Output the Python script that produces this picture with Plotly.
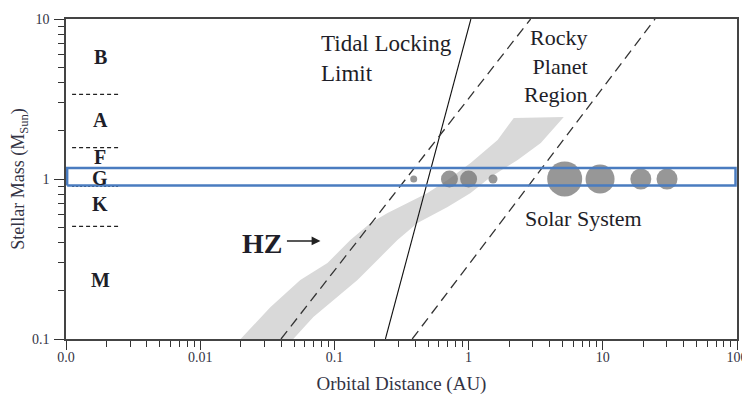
import math
import plotly.graph_objects as go

# ---------------- data ----------------
# Habitable-zone band outline (AU, solar masses): upper/left edge up, then lower/right edge down
hz_x = [0.020, 0.0333, 0.0557, 0.0888, 0.1315, 0.186, 0.249, 0.351, 0.494, 0.697, 1.035, 1.645, 2.17, 5.12,
        3.45, 2.32, 1.46, 1.035, 0.697, 0.416, 0.295, 0.2096, 0.1486, 0.105, 0.0697, 0.0494]
hz_y = [0.1, 0.158, 0.234, 0.2985, 0.416, 0.531, 0.613, 0.708, 0.818, 0.986, 1.259, 1.753, 2.405, 2.44,
        1.68, 1.315, 1.03, 0.818, 0.668, 0.531, 0.416, 0.312, 0.234, 0.183, 0.137, 0.1]

tidal_x = [0.24, 1.04]
tidal_y = [0.1, 10]
rocky_inner_x = [0.04, 2.9]
rocky_inner_y = [0.1, 10]
rocky_outer_x = [0.38, 24.5]
rocky_outer_y = [0.1, 10]

planets = ["Mercury", "Venus", "Earth", "Mars", "Jupiter", "Saturn", "Uranus", "Neptune"]
planet_a = [0.39, 0.72, 1.0, 1.52, 5.2, 9.54, 19.2, 30.1]
planet_mass = [1, 1, 1, 1, 1, 1, 1, 1]
planet_px = [7, 17, 17, 9, 35, 29, 21, 21]

spectral_classes = ["B", "A", "F", "G", "K", "M"]
class_mass = [5.8, 2.35, 1.37, 1.02, 0.70, 0.234]
class_x = 0.0018
class_bounds = [3.38, 1.57, 1.17, 0.90, 0.506]
bound_dash = ["4px,3px", "4px,3px", "2px,2px", "2px,2px", "4px,3px"]
bound_x = [0.00111, 0.00245]

sun_band = [0.91, 1.172]
x_range = [0.001, 100]

x_tickvals = [0.001, 0.01, 0.1, 1, 10, 100]
x_ticktext = ["0.0", "0.01", "0.1", "1", "10", "100"]
y_tickvals = [0.1, 1, 10]
y_ticktext = ["0.1", "1", "10"]

# ---------------- figure ----------------
SERIF = "Liberation Serif, Times New Roman, serif"
TXT = "#1e1e28"
fig = go.Figure()

fig.add_trace(go.Scatter(x=hz_x + [hz_x[0]], y=hz_y + [hz_y[0]], mode="lines", fill="toself",
                         fillcolor="#d9d9d9", line=dict(width=0), hoverinfo="skip"))

fig.add_trace(go.Scatter(x=tidal_x, y=tidal_y, mode="lines", line=dict(color="#111", width=1.1)))
fig.add_trace(go.Scatter(x=rocky_inner_x, y=rocky_inner_y, mode="lines",
                         line=dict(color="#333", width=1.3, dash="10px,6px")))
fig.add_trace(go.Scatter(x=rocky_outer_x, y=rocky_outer_y, mode="lines",
                         line=dict(color="#333", width=1.3, dash="10px,6px")))

for b, d in zip(class_bounds, bound_dash):
    fig.add_trace(go.Scatter(x=bound_x, y=[b, b], mode="lines",
                             line=dict(color="#222", width=1.2, dash=d)))

fig.add_trace(go.Scatter(x=planet_a, y=planet_mass, mode="markers", text=planets,
                         marker=dict(size=planet_px, color="#6b6b6b", line=dict(width=0))))

# Sun-like star box
bx = [x_range[0] * 1.02, x_range[1] * 0.975]
fig.add_trace(go.Scatter(x=[bx[0], bx[1], bx[1], bx[0], bx[0]],
                         y=[sun_band[0], sun_band[0], sun_band[1], sun_band[1], sun_band[0]],
                         mode="lines", line=dict(color="#4a7cc0", width=2.5)))

L = math.log10
ann = []
for c, m in zip(spectral_classes, class_mass):
    ann.append(dict(x=L(class_x), y=L(m), text="<b>%s</b>" % c, showarrow=False,
                    font=dict(family=SERIF, size=20, color=TXT), xanchor="center", yanchor="middle"))

ann.append(dict(x=L(0.0773), y=L(5.7), text="Tidal Locking<br>Limit", showarrow=False, align="left",
                xanchor="left", yanchor="middle", font=dict(family=SERIF, size=23, color=TXT)))
ann.append(dict(x=L(8.0), y=L(5.08), text="Rocky<br>Planet<br>Region", showarrow=False, align="right",
                xanchor="right", yanchor="middle", font=dict(family=SERIF, size=22, color=TXT)))
ann.append(dict(x=L(2.53), y=L(0.57), text="Solar System", showarrow=False,
                xanchor="left", yanchor="middle", font=dict(family=SERIF, size=22, color=TXT)))
ann.append(dict(x=L(0.0289), y=L(0.398), text="<b>HZ</b>", showarrow=False,
                xanchor="center", yanchor="middle", font=dict(family=SERIF, size=28, color=TXT)))
ann.append(dict(x=L(0.0787), y=L(0.41), ax=-35, ay=0, axref="pixel", ayref="pixel", text=" ",
                showarrow=True, arrowhead=2, arrowsize=1.1, arrowwidth=1.6, arrowcolor="#222",
                font=dict(size=1)))

# the page body adds an 8px offset, so margins are shifted to compensate
fig.update_layout(
    width=750, height=396,
    margin=dict(l=58, r=21, t=11, b=65),
    paper_bgcolor="white", plot_bgcolor="white",
    showlegend=False,
    annotations=ann,
    font=dict(family=SERIF, color=TXT),
)

minor_vals = [m * 10 ** e for e in range(-3, 2) for m in range(2, 10)]
fig.update_xaxes(type="log", range=[L(x_range[0]), L(x_range[1])], automargin=False,
                 tickmode="array", tickvals=x_tickvals, ticktext=x_ticktext,
                 ticks="outside", ticklen=9, tickwidth=1.3, tickcolor="#333",
                 minor=dict(tickmode="array", tickvals=minor_vals, ticks="outside", ticklen=6,
                            tickwidth=1.2, tickcolor="#333", showgrid=False),
                 showline=True, linecolor="#444", linewidth=1.5, mirror=True,
                 showgrid=False, zeroline=False, ticklabelstandoff=-5,
                 tickfont=dict(family=SERIF, size=14, color="#333344"),
                 title=dict(text="Orbital Distance (AU)", standoff=13,
                            font=dict(family=SERIF, size=19, color="#333344")))

minor_y = [m * 10 ** e for e in range(-1, 1) for m in range(2, 10)]
fig.update_yaxes(type="log", range=[-1, 1], automargin=False,
                 tickmode="array", tickvals=y_tickvals, ticktext=y_ticktext,
                 ticks="outside", ticklen=10, tickwidth=1.3, tickcolor="#333",
                 minor=dict(tickmode="array", tickvals=minor_y, ticks="outside", ticklen=6,
                            tickwidth=1.2, tickcolor="#333", showgrid=False),
                 showline=True, linecolor="#444", linewidth=1.5, mirror=True,
                 showgrid=False, zeroline=False, ticklabelstandoff=2,
                 tickfont=dict(family=SERIF, size=14, color="#333344"),
                 title=dict(text="Stellar Mass (M<sub>Sun</sub>)", standoff=5,
                            font=dict(family=SERIF, size=18, color="#333344")))

fig.write_html("out.html")
